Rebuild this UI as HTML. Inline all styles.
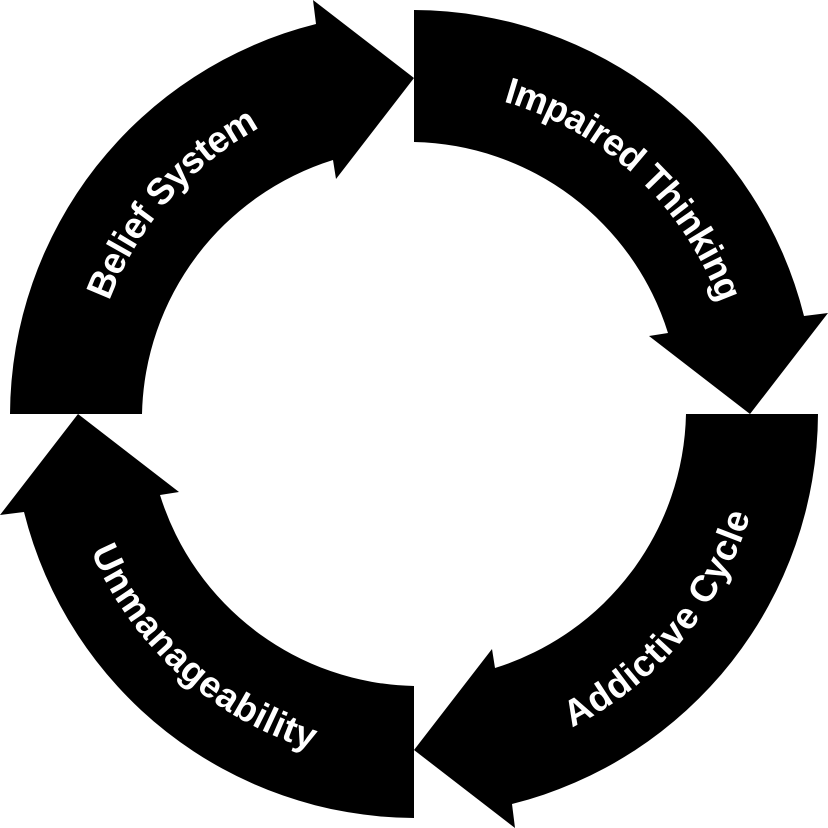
<!DOCTYPE html>
<html><head><meta charset="utf-8"><style>
html,body{margin:0;padding:0;background:#fff;}
svg{display:block;}
text{font-family:"Liberation Sans",sans-serif;font-weight:bold;font-size:37px;fill:#fff;}
</style></head><body>
<svg width="828" height="828" viewBox="0 0 828 828" xmlns="http://www.w3.org/2000/svg">
<defs>
<path id="arr" d="M 10 414 A 404 404 0 0 1 316 24 L 313 0 L 414 78 L 336 179 L 333 160 A 272 272 0 0 0 142 414 Z"/>
<path id="t1" d="M 94.4 524 A 338 338 0 0 1 478.5 82.2"/>
<path id="t2" d="M 315.2 90.8 A 338 338 0 0 1 743.3 490"/>
<path id="t3" d="M 355.3 746.9 A 338 338 0 0 0 731.6 298.4"/>
<path id="t4" d="M 83.4 343.7 A 338 338 0 0 0 518.4 735.4"/>
</defs>
<use href="#arr" fill="#000"/>
<use href="#arr" fill="#000" transform="rotate(90 414 414)"/>
<use href="#arr" fill="#000" transform="rotate(180 414 414)"/>
<use href="#arr" fill="#000" transform="rotate(270 414 414)"/>
<text dominant-baseline="central"><textPath href="#t1" startOffset="50%" text-anchor="middle">Belief System</textPath></text>
<text dominant-baseline="central"><textPath href="#t2" startOffset="50%" text-anchor="middle">Impaired Thinking</textPath></text>
<text dominant-baseline="central"><textPath href="#t3" startOffset="50%" text-anchor="middle">Addictive Cycle</textPath></text>
<text dominant-baseline="central"><textPath href="#t4" startOffset="50%" text-anchor="middle">Unmanageability</textPath></text>
</svg>
</body></html>
